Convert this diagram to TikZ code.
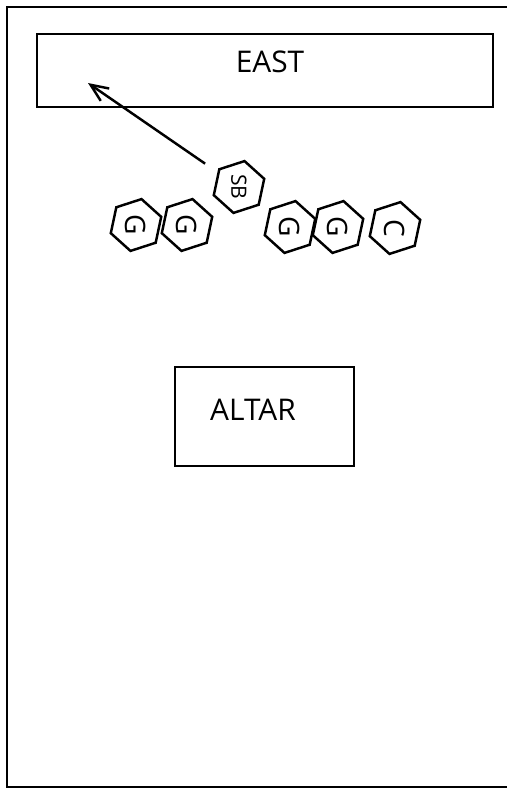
\documentclass[tikz,border=0pt]{standalone}
\usepackage{fontspec}
\setmainfont{Open Sans}
\usetikzlibrary{shapes, arrows.meta, positioning}

\begin{document}
\begin{tikzpicture}[
    x=0.02cm, y=-0.02cm,
    room/.style={draw, line width=1.5pt, rectangle, inner sep=0},
    roomtext/.style={font=\fontsize{17}{20}\selectfont},
    seat/.style={draw, line width=1.4pt, regular polygon, regular polygon sides=6,
        minimum size=1.06cm, inner sep=0, rotate=-90, shape border rotate=-12},
    seattext/.style={font=\fontsize{16}{19}\selectfont},
    myarrow/.style={-{Straight Barb[length=3.5mm, width=3mm]}, line width=1.4pt},
]

\useasboundingbox (0,0) rectangle (507,788);

% Frame
\draw[line width=1.7pt] (7,7) rectangle (520,787);

% Nodes
\node[room, minimum width=9.12cm, minimum height=1.46cm,
    label={[roomtext, xshift=0.1cm, yshift=0.17cm]center:EAST}] (east) at (265,70.5) {};
\node[room, minimum width=3.58cm, minimum height=1.98cm,
    label={[roomtext, xshift=-0.23cm, yshift=0.13cm]center:ALTAR}] (altar) at (264.5,416.5) {};

% seats
\node[seat, seattext] (g1) at (136,225) {G};
\node[seat, seattext] (g2) at (187,225) {G};
\node[seat, font=\fontsize{12}{14}\selectfont] (sb) at (239,187) {SB};
\node[seat, seattext] (g3) at (290,227) {G};
\node[seat, seattext] (g4) at (338,227) {G};
\node[seat, seattext] (c1) at (395,228) {C};

% Arrow
\coordinate (facing) at (88,83);
\draw[myarrow, shorten <=0.3cm] (sb) -- (facing);

\end{tikzpicture}
\end{document}
